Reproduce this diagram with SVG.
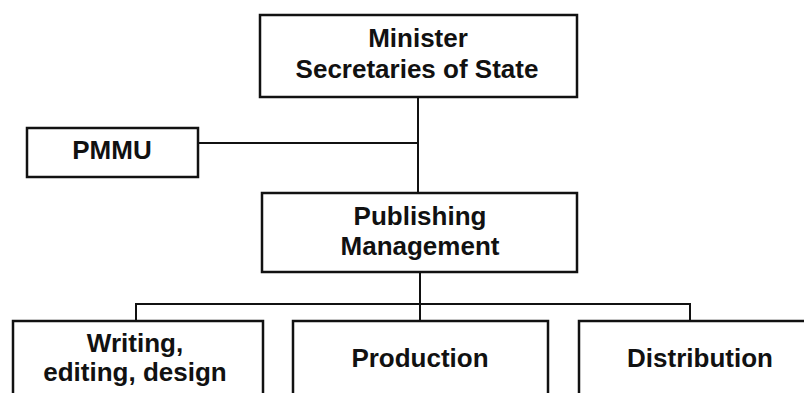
<svg xmlns="http://www.w3.org/2000/svg" width="804" height="393" viewBox="0 0 804 393">
  <style>
    .box { fill: #ffffff; stroke: #111111; stroke-width: 2.5; }
    .link { fill: none; stroke: #111111; stroke-width: 2; }
    text { font-family: "Liberation Sans", Arial, sans-serif; font-weight: bold; font-size: 26px; fill: #111111; text-anchor: middle; }
  </style>
  <rect width="804" height="393" fill="#ffffff"/>

  <g id="connectors">
    <path class="link" d="M418 97 V193"/>
    <path class="link" d="M198 143 H418"/>
    <path class="link" d="M420 272 V321"/>
    <path class="link" d="M136 321 V304 H690 V321"/>
  </g>

  <g id="minister">
    <rect class="box" x="260" y="15" width="317" height="82"/>
    <text x="418" y="47">Minister</text>
    <text x="417" y="78">Secretaries of State</text>
  </g>

  <g id="pmmu">
    <rect class="box" x="27" y="128" width="171" height="49"/>
    <text x="112" y="159">PMMU</text>
  </g>

  <g id="publishing">
    <rect class="box" x="262" y="193" width="315" height="79"/>
    <text x="420" y="225">Publishing</text>
    <text x="420" y="255">Management</text>
  </g>

  <g id="writing">
    <rect class="box" x="13" y="321" width="250" height="90"/>
    <text x="135" y="352">Writing,</text>
    <text x="135" y="381">editing, design</text>
  </g>

  <g id="production">
    <rect class="box" x="293" y="321" width="255" height="90"/>
    <text x="420" y="367">Production</text>
  </g>

  <g id="distribution">
    <rect class="box" x="579" y="321" width="240" height="90"/>
    <text x="700" y="367">Distribution</text>
  </g>
</svg>
